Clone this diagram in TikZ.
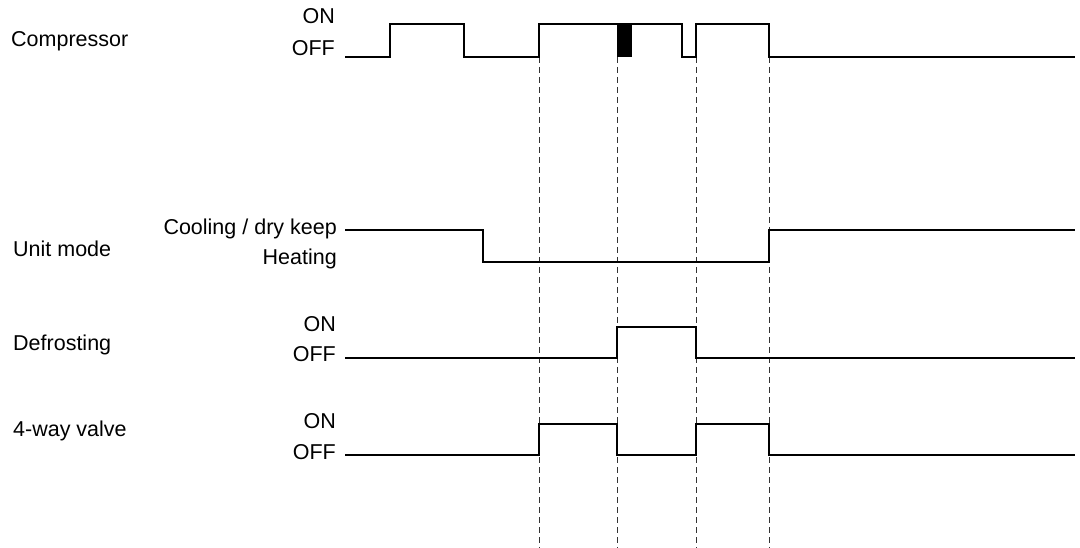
\documentclass[tikz,border=0pt]{standalone}
\usepackage{fontspec}
\setmainfont{Liberation Sans}
\begin{document}
\begin{tikzpicture}[x=1pt,y=-1pt,
  lbl/.style={font=\fontsize{21.5}{25}\selectfont,inner sep=0pt},
  lvl/.style={lbl,anchor=base east},
  sig/.style={lbl,anchor=base west},
  wave/.style={line width=1.3pt,line join=miter},
  guide/.style={line width=0.8pt,dash pattern=on 6pt off 4pt,black!80}]
\useasboundingbox (0,0) rectangle (1080,548);
% signal names
\node[sig] (ncomp) at (11,47) {Compressor};
\node[sig] (nmode) at (13,257) {Unit mode};
\node[sig] (ndef) at (13,351) {Defrosting};
\node[sig] (nvalve) at (13,436) {4-way valve};
% level labels
\node[lvl] (con) at (335,24) {ON};
\node[lvl] (coff) at (335,56) {OFF};
\node[lvl] (mcool) at (337,235) {Cooling / dry keep};
\node[lvl] (mheat) at (337,265) {Heating};
\node[lvl] (don) at (336,331) {ON};
\node[lvl] (doff) at (336,362) {OFF};
\node[lvl] (von) at (336,428) {ON};
\node[lvl] (voff) at (336,459) {OFF};
% guides
\foreach \x/\n in {539/a,617/b,696/c,769/d}{
  \coordinate (gt\n) at (\x,57);
  \coordinate (gb\n) at (\x,548);
  \draw[guide] (gt\n) -- (gb\n);
}
% compressor
\fill (617,24) rectangle (632,57);
\coordinate (cs) at (345,57);
\draw[wave] (cs) -- (390,57) -- (390,24) -- (464,24) -- (464,57) -- (539,57) -- (539,24)
  -- (682,24) -- (682,57) -- (696,57) -- (696,24) -- (769,24) -- (769,57) -- (1075,57);
% unit mode
\coordinate (ms) at (345,230);
\draw[wave] (ms) -- (483,230) -- (483,262) -- (769,262) -- (769,230) -- (1075,230);
% defrosting
\coordinate (ds) at (345,358);
\draw[wave] (ds) -- (617,358) -- (617,327) -- (696,327) -- (696,358) -- (1075,358);
% 4-way valve
\coordinate (vs) at (345,455);
\draw[wave] (vs) -- (539,455) -- (539,424) -- (617,424) -- (617,455) -- (696,455)
  -- (696,424) -- (769,424) -- (769,455) -- (1075,455);
\end{tikzpicture}
\end{document}
